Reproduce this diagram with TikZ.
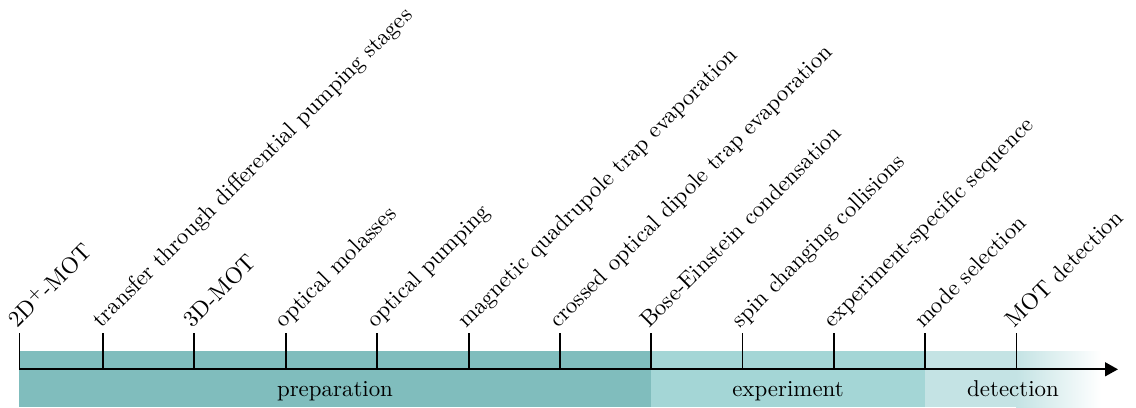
\documentclass[tikz,border=0pt]{standalone}
\usetikzlibrary{arrows.meta}
\definecolor{prepc}{RGB}{128,189,189}
\definecolor{expc}{RGB}{164,214,214}
\definecolor{detc}{RGB}{196,227,228}
\begin{document}
\begin{tikzpicture}[x=0.4367pt,y=-0.4367pt,
  tickline/.style={line width=0.8pt},
  axisline/.style={line width=0.8pt,-{Triangle[length=5.6pt,width=6pt]}},
  steplabel/.style={rotate=45,anchor=base west,inner sep=0pt,font=\normalsize},
  phaselabel/.style={anchor=base,inner sep=0pt}]
\useasboundingbox (0,0) rectangle (1136,407);
% bands
\fill[prepc] (19,351) rectangle (651,407);
\fill[expc] (651,351) rectangle (925,407);
\fill[detc] (925,351) rectangle (1016,407);
\shade[left color=detc,right color=white] (1016,351) rectangle (1101,407);
\node[phaselabel] (prep) at (335,396.7) {preparation};
\node[phaselabel] (exper) at (788,396.7) {experiment};
\node[phaselabel] (detect) at (1013,396.7) {detection};
% axis
\coordinate (axstart) at (19,369.3);
\coordinate (axend) at (1118,369.3);
\draw[axisline] (axstart) -- (axend);
% ticks and labels
\foreach \x/\name/\txt in {
  19.5/t1/{2D$^+$-MOT},
  103/t2/{transfer through differential pumping stages},
  194.3/t3/{3D-MOT},
  285.7/t4/{optical molasses},
  377.3/t5/{optical pumping},
  468.7/t6/{magnetic quadrupole trap evaporation},
  560/t7/{crossed optical dipole trap evaporation},
  651/t8/{Bose-Einstein condensation},
  742.5/t9/{spin changing collisions},
  834/t10/{experiment-specific sequence},
  925/t11/{mode selection},
  1016.5/t12/{MOT detection}} {
  \coordinate (\name-b) at (\x,369.3);
  \coordinate (\name-t) at (\x,333.3);
  \draw[tickline] (\name-b) -- (\name-t);
  \node[steplabel] (\name-l) at ([xshift=-0.9pt,yshift=1.9pt]\name-t) {\txt};
}
\end{tikzpicture}
\end{document}
